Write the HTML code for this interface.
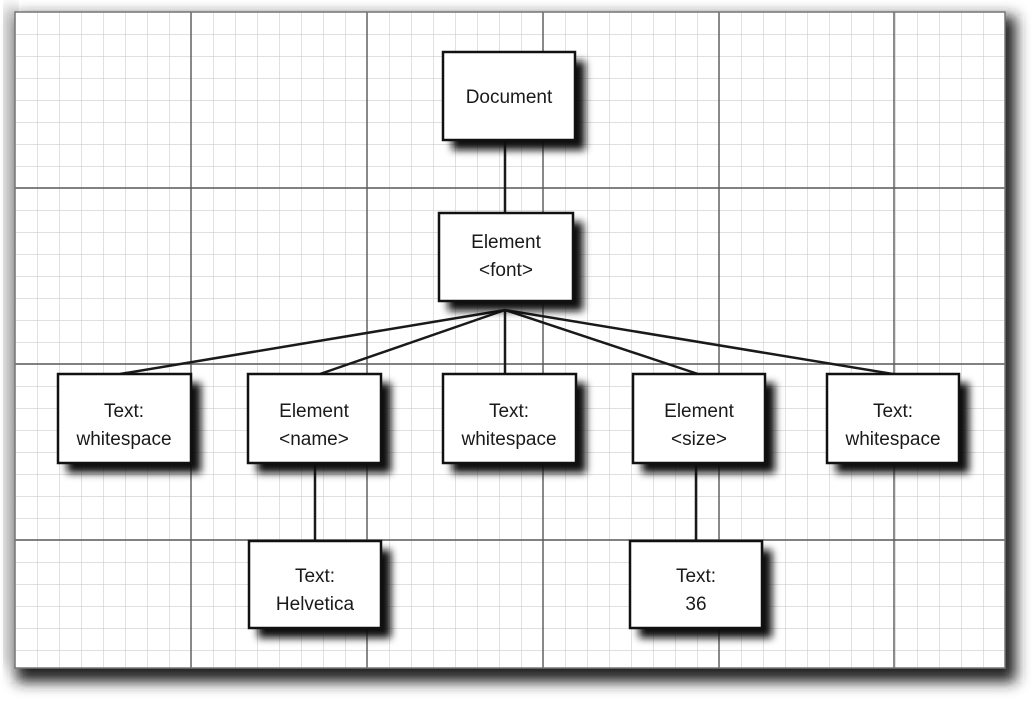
<!DOCTYPE html>
<html><head><meta charset="utf-8"><style>
html,body{margin:0;padding:0;background:#fff;}
svg{display:block;}
text{font-family:"Liberation Sans",Arial,sans-serif;font-size:19px;fill:#1a1a1a;text-anchor:middle;}
</style></head><body>
<svg width="1036" height="702" viewBox="0 0 1036 702" xmlns="http://www.w3.org/2000/svg">
<defs>
<filter id="sh" x="-20%" y="-20%" width="150%" height="150%"><feGaussianBlur stdDeviation="4"/></filter>
<filter id="psh" x="-5%" y="-5%" width="110%" height="115%"><feGaussianBlur stdDeviation="7"/></filter>
<pattern id="minor" x="15" y="12" width="22" height="22" patternUnits="userSpaceOnUse">
<path d="M0 0H22M0 0V22" stroke="#cdcdcd" stroke-width="1.2" fill="none"/>
</pattern>
</defs>
<rect x="16" y="16" width="1000" height="666" fill="#222" filter="url(#psh)"/>
<rect x="4" y="6" width="14" height="660" fill="#999" filter="url(#psh)" opacity="0.6"/>
<rect x="15" y="12" width="990" height="656" fill="#fff"/>
<rect x="15" y="12" width="990" height="656" fill="url(#minor)"/>
<g stroke="#5a5a5a" stroke-width="1.4">
<line x1="191" y1="12" x2="191" y2="668"/><line x1="367" y1="12" x2="367" y2="668"/>
<line x1="543" y1="12" x2="543" y2="668"/><line x1="719" y1="12" x2="719" y2="668"/>
<line x1="894" y1="12" x2="894" y2="668"/>
<line x1="15" y1="188" x2="1005" y2="188"/><line x1="15" y1="364" x2="1005" y2="364"/>
<line x1="15" y1="540" x2="1005" y2="540"/>
</g>
<rect x="15" y="12" width="990" height="656" fill="none" stroke="#777" stroke-width="1.5"/>
<g stroke="#1a1a1a" stroke-width="2.5">
<line x1="505" y1="140" x2="505" y2="213"/>
<line x1="505" y1="310" x2="120" y2="374"/>
<line x1="505" y1="310" x2="320" y2="374"/>
<line x1="505" y1="310" x2="505" y2="374"/>
<line x1="505" y1="310" x2="698" y2="374"/>
<line x1="505" y1="310" x2="893" y2="374"/>
<line x1="315" y1="463" x2="315" y2="541"/>
<line x1="696" y1="463" x2="696" y2="541"/>
</g>
<g fill="#111" filter="url(#sh)">
<rect x="452" y="61" width="133" height="89"/>
<rect x="448" y="222" width="135" height="89"/>
<rect x="67" y="383" width="134" height="90"/>
<rect x="257" y="383" width="134" height="90"/>
<rect x="452" y="383" width="134" height="90"/>
<rect x="642" y="383" width="133" height="90"/>
<rect x="836" y="383" width="133" height="90"/>
<rect x="258" y="550" width="133" height="88"/>
<rect x="639" y="550" width="133" height="88"/>
</g>
<g fill="#fff" stroke="#111" stroke-width="2.5">
<rect x="443" y="52" width="132" height="88"/>
<rect x="439" y="213" width="134" height="88"/>
<rect x="58" y="374" width="133" height="89"/>
<rect x="248" y="374" width="133" height="89"/>
<rect x="443" y="374" width="133" height="89"/>
<rect x="633" y="374" width="132" height="89"/>
<rect x="827" y="374" width="132" height="89"/>
<rect x="249" y="541" width="132" height="87"/>
<rect x="630" y="541" width="132" height="87"/>
</g>
<text x="509" y="103">Document</text>
<text x="506" y="248">Element</text>
<text x="506" y="276">&lt;font&gt;</text>
<text x="124" y="417">Text:</text>
<text x="124" y="445">whitespace</text>
<text x="314" y="417">Element</text>
<text x="314" y="445">&lt;name&gt;</text>
<text x="509" y="417">Text:</text>
<text x="509" y="445">whitespace</text>
<text x="699" y="417">Element</text>
<text x="699" y="445">&lt;size&gt;</text>
<text x="893" y="417">Text:</text>
<text x="893" y="445">whitespace</text>
<text x="315" y="582">Text:</text>
<text x="315" y="610">Helvetica</text>
<text x="696" y="582">Text:</text>
<text x="696" y="610">36</text>
</svg>
</body></html>
